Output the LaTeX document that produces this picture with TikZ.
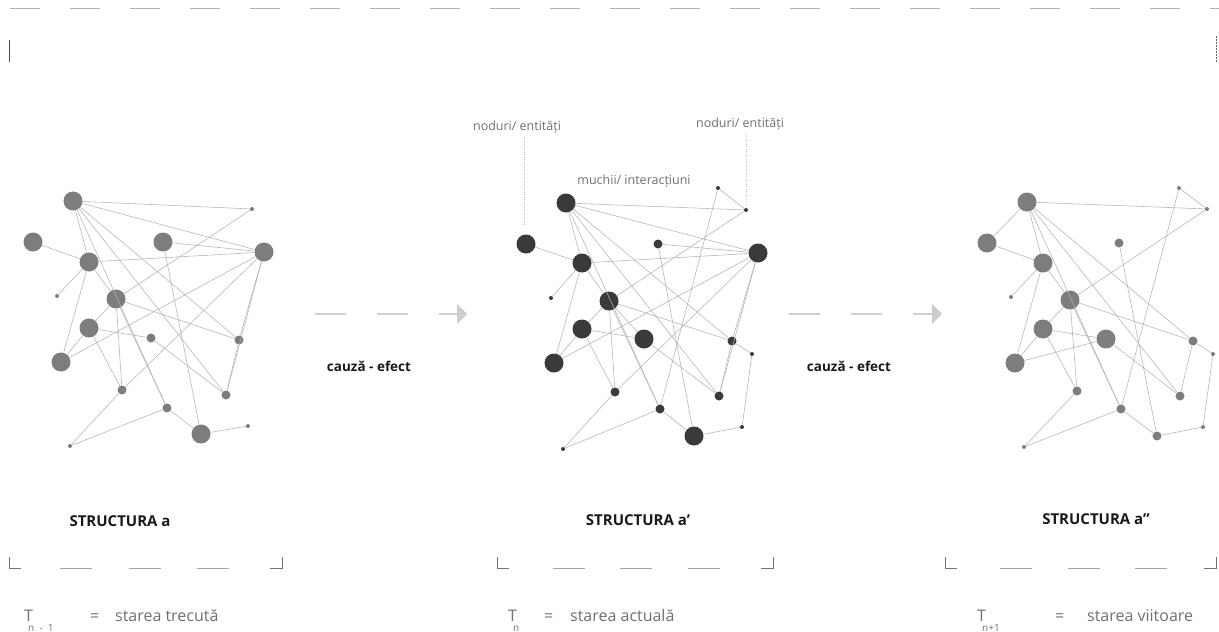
\documentclass[tikz,border=0pt]{standalone}
\usepackage{fontspec}
\setmainfont{Open Sans}
\usetikzlibrary{arrows.meta}
\definecolor{nodeL}{HTML}{7D7D7D}
\definecolor{nodeM}{HTML}{3A3A3A}
\definecolor{edgec}{HTML}{B2B2B2}
\definecolor{txtg}{HTML}{707070}
\definecolor{arrc}{HTML}{CDCDCD}
\tikzset{
  big/.style={circle,inner sep=0pt,minimum size=19pt},
  med/.style={circle,inner sep=0pt,minimum size=9pt},
  sml/.style={circle,inner sep=0pt,minimum size=4pt},
  gL/.style={fill=nodeL},
  gM/.style={fill=nodeM},
  edge/.style={draw=edgec,line width=0.55pt},
  caption/.style={font=\bfseries\fontsize{15}{17}\selectfont,text=black!90},
  effect/.style={font=\bfseries\fontsize{13.5}{15}\selectfont,text=black!90},
  note/.style={font=\fontsize{12.5}{14}\selectfont,text=txtg},
  state/.style={font=\fontsize{16}{18}\selectfont,text=txtg,inner sep=0pt,anchor=base west},
  sub/.style={font=\fontsize{10}{12}\selectfont,text=txtg,inner sep=0pt,anchor=base west},
  flow/.style={draw=arrc,line width=1.2pt,dash pattern=on 31pt off 31pt,
    -{Triangle[length=10pt,width=20pt,fill=arrc]}},
  leader/.style={draw=black!25,line width=0.5pt,dotted},
  brk/.style={draw=black!55,line width=0.6pt},
  brkd/.style={draw=black!35,line width=0.6pt},
  topd/.style={draw=black!30,line width=1pt,dash pattern=on 30pt off 30pt}
}
\begin{document}
\begin{tikzpicture}[x=1pt,y=-1pt]
\useasboundingbox (0,0) rectangle (1219,632);
% top frame
\coordinate (t1) at (10,8);
\coordinate (t2) at (1219,8);
\draw[topd] (t1) -- (t2);
\coordinate (lv1) at (9,40);
\coordinate (lv2) at (9,62);
\draw[draw=black!70,line width=0.8pt] (lv1) -- (lv2);
\coordinate (rv1) at (1216,36);
\coordinate (rv2) at (1216,62);
\draw[draw=black!60,line width=0.8pt,dash pattern=on 2pt off 1pt] (rv1) -- (rv2);

% ================= network A =================
\begin{scope}[every node/.append style={gL}]
\node[big] (a1) at (73,201) {};
\node[big] (a2) at (33,242) {};
\node[big] (a3) at (163,242) {};
\node[big] (a4) at (264,252) {};
\node[big] (a5) at (89,262) {};
\node[sml] (a6) at (252,209) {};
\node[sml] (a7) at (57,296) {};
\node[big] (a8) at (116,299) {};
\node[big] (a9) at (89,328) {};
\node[med] (a10) at (151,338) {};
\node[med] (a11) at (239,340) {};
\node[big] (a12) at (61,362) {};
\node[med] (a13) at (122,390) {};
\node[med] (a14) at (226,395) {};
\node[med] (a15) at (167,408) {};
\node[big] (a16) at (201,434) {};
\node[sml] (a17) at (248,426) {};
\node[sml] (a18) at (70,446) {};
\end{scope}
\foreach \u/\v in {a1/a6,a1/a4,a1/a5,a1/a11,a1/a14,a1/a15,a2/a5,a3/a4,a3/a16,
  a5/a4,a5/a7,a5/a8,a5/a12,a6/a8,a4/a12,a4/a13,a4/a14,a4/a11,a8/a9,a8/a11,
  a8/a13,a8/a15,a9/a12,a9/a10,a9/a13,a10/a14,a11/a14,a13/a18,a18/a15,
  a15/a16,a16/a17}
  \draw[edge] (\u) -- (\v);

% ================= network B =================
\begin{scope}[every node/.append style={gM}]
\node[big] (b1) at (566,203) {};
\node[big] (b2) at (526,244) {};
\node[med] (b3) at (658,244) {};
\node[big] (b4) at (758,253) {};
\node[big] (b5) at (582,263) {};
\node[sml] (b6) at (718,188) {};
\node[sml] (b7) at (746,210) {};
\node[sml] (b8) at (551,298) {};
\node[big] (b9) at (609,301) {};
\node[big] (b10) at (582,329) {};
\node[big] (b11) at (644,339) {};
\node[med] (b12) at (732,341) {};
\node[sml] (b13) at (752,354) {};
\node[big] (b14) at (554,363) {};
\node[med] (b15) at (615,392) {};
\node[med] (b16) at (719,396) {};
\node[med] (b17) at (660,409) {};
\node[big] (b18) at (694,436) {};
\node[sml] (b19) at (742,427) {};
\node[sml] (b20) at (563,449) {};
\end{scope}
\foreach \u/\v in {b1/b7,b6/b7,b6/b17,b1/b4,b1/b5,b1/b12,b1/b16,b1/b17,b2/b5,
  b3/b4,b3/b18,b5/b4,b5/b8,b5/b9,b5/b14,b7/b9,b4/b14,b4/b15,b4/b16,b4/b12,
  b9/b10,b9/b12,b9/b15,b9/b17,b9/b11,b10/b14,b10/b11,b10/b15,b11/b16,
  b12/b13,b12/b16,b13/b19,b15/b20,b20/b17,b17/b18,b18/b19}
  \draw[edge] (\u) -- (\v);

% ================= network C =================
\begin{scope}[every node/.append style={gL}]
\node[big] (c1) at (1027,202) {};
\node[big] (c2) at (987,243) {};
\node[med] (c3) at (1119,243) {};
\node[sml] (c4) at (1179,188) {};
\node[sml] (c5) at (1207,209) {};
\node[big] (c6) at (1043,263) {};
\node[sml] (c7) at (1011,297) {};
\node[big] (c8) at (1070,300) {};
\node[big] (c9) at (1043,329) {};
\node[big] (c10) at (1106,339) {};
\node[med] (c11) at (1193,341) {};
\node[sml] (c12) at (1213,354) {};
\node[big] (c13) at (1015,363) {};
\node[med] (c14) at (1077,391) {};
\node[med] (c15) at (1180,396) {};
\node[med] (c16) at (1121,409) {};
\node[med] (c17) at (1157,436) {};
\node[sml] (c18) at (1203,427) {};
\node[sml] (c19) at (1024,447) {};
\end{scope}
\foreach \u/\v in {c1/c5,c4/c5,c4/c16,c1/c2,c1/c6,c1/c11,c1/c15,c1/c16,c2/c6,
  c3/c17,c8/c5,c6/c7,c6/c8,c6/c13,c8/c9,c8/c11,c8/c14,c8/c16,c9/c10,c9/c14,
  c9/c13,c13/c10,c10/c15,c11/c15,c11/c12,c12/c18,c14/c19,c19/c16,c16/c17,c17/c18}
  \draw[edge] (\u) -- (\v);

% ================= annotations =================
\node[note] (nl) at (517,127) {noduri/ entități};
\node[note] (nr) at (740,124) {noduri/ entități};
\node[note] (mi) at (634,181) {muchii/ interacțiuni};
\coordinate (lle) at (524,226);
\coordinate (rle) at (746,205);
\draw[leader] (nl.south -| lle) -- (lle);
\draw[leader] (nr.south -| rle) -- (rle);

% arrows
\coordinate (f1s) at (315,314);
\coordinate (f1e) at (467,314);
\draw[flow] (f1s) -- (f1e);
\node[effect] (ce1) at (369,366) {cauză - efect};
\coordinate (f2s) at (789,314);
\coordinate (f2e) at (942,314);
\draw[flow] (f2s) -- (f2e);
\node[effect] (ce2) at (849,366) {cauză - efect};

% structure captions
\node[caption] (s1) at (120,521) {STRUCTURA a};
\node[caption] (s2) at (638,520) {STRUCTURA a’};
\node[caption] (s3) at (1096,519) {STRUCTURA a”};

% brackets
\foreach \xa/\xb in {9/282, 497/773, 945/1216}{
  \draw[brk] (\xa,557) -- (\xa,568) -- (\xa+12,568);
  \draw[brk] (\xb-12,568) -- (\xb,568) -- (\xb,557);
}
\foreach \x in {60,129,197, 553,620,688, 1000,1068,1135}
  \draw[brkd] (\x,568) -- (\x+32,568);

% states
\node[state] (T1) at (24,621) {T};
\node[sub] (T1s) at (28,631) {n\ \ -\ \ 1};
\node[state] (E1) at (90,621) {=};
\node[state] (S1) at (115,621) {starea trecută};

\node[state] (T2) at (508,621) {T};
\node[sub] (T2s) at (513,631) {n};
\node[state] (E2) at (544,621) {=};
\node[state] (S2) at (570,621) {starea actuală};

\node[state] (T3) at (977,621) {T};
\node[sub] (T3s) at (982,631) {n+1};
\node[state] (E3) at (1055,621) {=};
\node[state] (S3) at (1087,621) {starea viitoare};
\end{tikzpicture}
\end{document}
